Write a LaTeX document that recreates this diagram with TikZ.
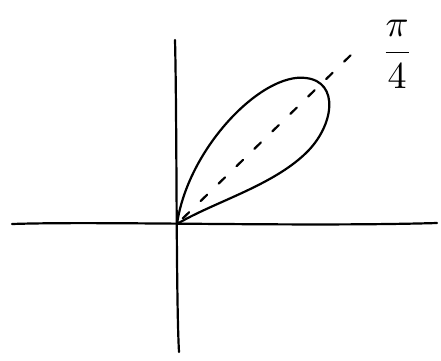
\documentclass[tikz,border=0pt]{standalone}
\usepackage{amsmath}
\usetikzlibrary{positioning}

\begin{document}
\begin{tikzpicture}[x=1pt,y=-1pt,line width=2.2pt,line cap=round,line join=round]
\useasboundingbox (0,0) rectangle (441,360);
% axes
\coordinate (O) at (177,224);
\coordinate (xl) at (12,224);
\coordinate (xr) at (437,223);
\coordinate (yt) at (175,40);
\coordinate (yb) at (179,352);
\draw (xl) .. controls (100,221) and (300,227) .. (xr);
\draw (yt) .. controls (177,120) and (176,300) .. (yb);
% petal along the 45 degree ray
\draw (O) .. controls (188,148) and (262,72) .. (306,78)
          .. controls (340,82) and (334,126) .. (306,153)
          .. controls (272,186) and (214,202) .. (O);
% dashed ray
\coordinate (ray) at (354,52);
\draw[dash pattern=on 9pt off 16pt,dash phase=-8pt] (O) -- (ray);
\node (angle) [right=26pt of ray,yshift=-2pt,inner sep=0pt] {\scalebox{3.8}{$\dfrac{\pi}{4}$}};
\end{tikzpicture}
\end{document}
